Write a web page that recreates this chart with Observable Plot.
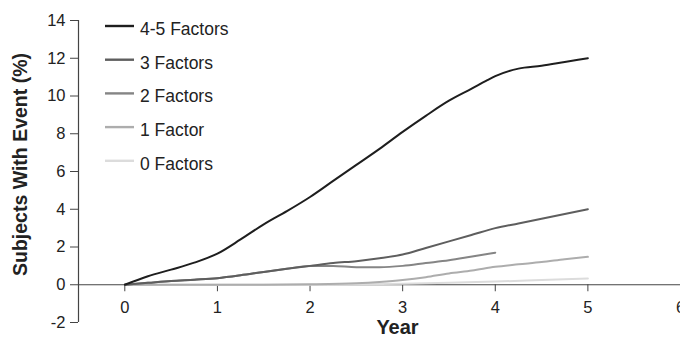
<!DOCTYPE html>
<html><head><meta charset="utf-8">
<script src="https://cdn.jsdelivr.net/npm/d3@7"></script>
<script src="https://cdn.jsdelivr.net/npm/@observablehq/plot@0.6"></script>
<style>
body{margin:0;background:#fff;}
#chart{position:relative;width:680px;height:341px;overflow:hidden;}
</style></head><body><div id="chart"></div>
<script>
const FONT = '"Liberation Sans", Arial, sans-serif';

const seriesNames = ["4-5 Factors", "3 Factors", "2 Factors", "1 Factor", "0 Factors"];
const seriesColors = ["#1e1e1e", "#5e5e5e", "#858585", "#adadad", "#dcdcdc"];

const years45 = [0, 0.25, 0.5, 0.75, 1, 1.25, 1.5, 1.75, 2, 2.25, 2.5, 2.75, 3, 3.25, 3.5, 3.75, 3.9, 4, 4.25, 4.5, 4.75, 5];
const pct45   = [0, 0.45, 0.8, 1.17, 1.65, 2.4, 3.2, 3.9, 4.65, 5.5, 6.35, 7.2, 8.1, 8.95, 9.75, 10.4, 10.8, 11.05, 11.45, 11.6, 11.8, 12.0];

const years3 = [0, 0.25, 0.5, 0.75, 1, 1.25, 1.5, 1.75, 2, 2.25, 2.5, 2.75, 3, 3.25, 3.5, 3.75, 4, 4.25, 4.5, 4.75, 5];
const pct3   = [0, 0.1, 0.2, 0.27, 0.35, 0.5, 0.68, 0.85, 1.0, 1.15, 1.25, 1.4, 1.6, 1.95, 2.3, 2.65, 3.0, 3.25, 3.5, 3.75, 4.0];

const years2 = [0, 0.25, 0.5, 0.75, 1, 1.25, 1.5, 1.75, 2, 2.25, 2.5, 2.75, 3, 3.25, 3.5, 3.75, 4];
const pct2   = [0, 0.1, 0.2, 0.27, 0.35, 0.5, 0.68, 0.85, 1.0, 1.0, 0.93, 0.93, 1.0, 1.15, 1.3, 1.5, 1.7];

const years1 = [0, 0.5, 1, 1.5, 2, 2.5, 2.75, 3, 3.25, 3.5, 3.75, 4, 4.25, 4.5, 4.75, 5];
const pct1   = [0, 0, 0, 0, 0.02, 0.08, 0.15, 0.25, 0.4, 0.6, 0.75, 0.95, 1.08, 1.2, 1.35, 1.48];

const years0 = [0, 1, 2, 2.5, 3, 3.5, 4, 4.5, 5];
const pct0   = [0, 0, 0, 0.02, 0.05, 0.1, 0.17, 0.25, 0.33];

const xTicks = [0, 1, 2, 3, 4, 5, 6];
const yTicks = [-2, 0, 2, 4, 6, 8, 10, 12, 14];
const xLabel = "Year";
const yLabel = "Subjects With Event (%)";

const seriesData = [
  [years45, pct45], [years3, pct3], [years2, pct2], [years1, pct1], [years0, pct0]
];
const rows = [];
seriesData.forEach(([xs, ys], i) => {
  xs.forEach((x, j) => rows.push({series: seriesNames[i], year: x, pct: ys[j]}));
});
// draw lightest first
const drawOrder = [...seriesNames].reverse();

const plot = Plot.plot({
  width: 680,
  height: 341,
  marginLeft: 78,
  marginRight: 0,
  marginTop: 20,
  marginBottom: 19,
  style: {fontFamily: FONT, fontSize: "16px", color: "#222", background: "#fff", overflow: "visible"},
  x: {domain: [-0.5, 6], axis: null},
  y: {domain: [-2, 14], axis: null},
  color: {domain: seriesNames, range: seriesColors},
  marks: [
    Plot.ruleY([0], {stroke: "#444", strokeWidth: 1.2}),
    Plot.ruleX([-0.5], {stroke: "#444", strokeWidth: 1.2}),
    Plot.axisY({ticks: yTicks, tickSize: 8, tickPadding: 5, tickFormat: d => String(d), stroke: "#444", fill: "#222", label: null, fontSize: 16.5}),
    Plot.axisX({ticks: xTicks, anchor: "bottom", dy: -37.75, tickSize: 7, tickPadding: 10, tickFormat: d => String(d), stroke: "#444", fill: "#222", label: null, fontSize: 16.5}),
    ...drawOrder.map(name => Plot.line(rows.filter(r => r.series === name), {x: "year", y: "pct", stroke: "series", strokeWidth: 2, curve: "monotone-x"})),
    Plot.text([xLabel], {frameAnchor: "bottom", textAnchor: "middle", dx: 18, dy: 11, fontWeight: "bold", fontSize: 20, fill: "#222"}),
    Plot.text([yLabel], {frameAnchor: "left", textAnchor: "middle", rotate: -90, dx: -58, dy: -7, fontWeight: "bold", fontSize: 19.5, fill: "#222"})
  ]
});
document.getElementById("chart").appendChild(plot);

// legend inside the plot area
const svg = d3.select(plot);
const lg = svg.append("g").attr("transform", "translate(105,26)");
seriesNames.forEach((name, i) => {
  const g = lg.append("g").attr("transform", `translate(0,${i * 33.7})`);
  g.append("line").attr("x1", 0).attr("x2", 29).attr("y1", 0).attr("y2", 0)
    .attr("stroke", seriesColors[i]).attr("stroke-width", 2.4);
  g.append("text").attr("x", 35).attr("y", 9).attr("text-anchor", "start")
    .attr("font-family", FONT).attr("font-size", 17.5)
    .attr("fill", "#222").text(name);
});
</script></body></html>
